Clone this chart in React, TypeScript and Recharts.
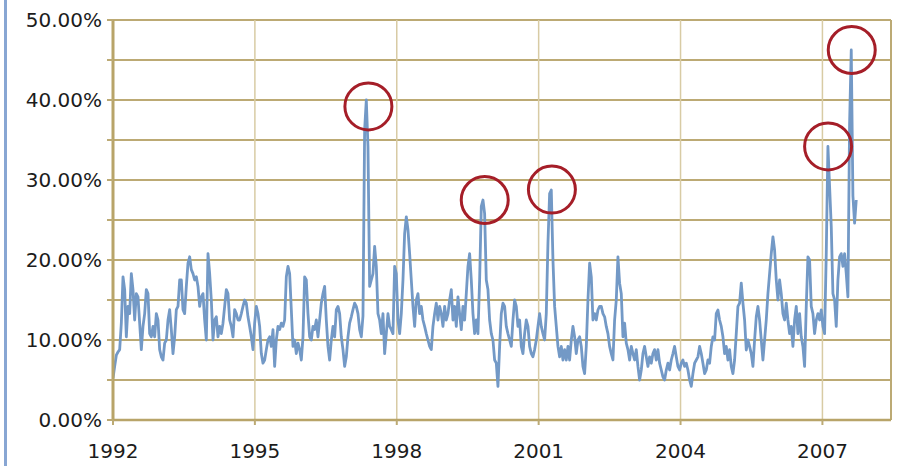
import {
  LineChart,
  Line,
  XAxis,
  YAxis,
  CartesianGrid,
  ReferenceDot,
  ReferenceLine,
} from "recharts";

// rolling volatility, % (evenly spaced samples)
const START_YEAR = 1992;
const STEP = 1 / 28.38; // years between samples

const vol1992 = [
  5.2, 6.7, 8.1, 8.5, 8.8, 12.1, 17.9, 16.3, 10.4, 14.2, 13.3, 18.3, 16.3, 12.5, 15.8, 15.4,
  12.1, 8.8, 11.7, 13.3, 16.3, 15.8, 10.8, 10.4, 11.7, 10.4, 13.3, 12.5, 8.8, 7.9, 7.5, 9.6,
  10.0, 12.5, 13.8, 11.3, 8.3, 10.4, 13.8, 14.2, 17.5, 17.5, 13.8, 13.3, 16.7, 19.6, 20.4, 18.8,
  18.3, 17.5, 17.9, 16.7, 14.2, 15.4, 15.8, 12.5, 10.0, 20.8, 18.3, 15.0, 10.0, 12.5, 12.9, 10.4,
  11.7, 10.8, 12.1, 14.2, 16.3, 15.8, 12.5, 11.7, 10.4, 13.8, 13.3, 12.5,
];
const vol1994 = [
  12.5, 13.3, 14.2, 15.0, 14.6, 12.9, 11.7, 10.4, 8.8, 12.1, 14.2, 13.3, 11.7, 8.3, 7.1, 7.5,
  8.8, 10.0, 10.4, 9.2, 11.3, 6.7, 10.0, 11.7, 11.3, 12.1, 11.7, 12.5, 17.9, 19.2, 18.3, 13.8,
  9.2, 10.0, 8.3, 9.6, 8.8, 7.5, 10.4, 17.9, 17.5, 13.3, 10.4, 10.0, 11.7, 11.3, 12.5, 10.4,
  12.5, 14.6, 15.8, 16.7, 12.5, 9.2, 7.5, 10.0, 11.7, 10.4, 13.8, 14.2, 13.3, 10.4, 8.8, 6.7,
  7.9, 10.4, 12.1, 12.9, 13.8, 14.6, 14.2, 13.3, 11.3, 10.4, 13.0,
];
const vol1997 = [
  36.3, 40.0, 34.2, 16.7, 17.5, 18.3, 21.7, 19.2, 13.3, 12.5, 10.8, 13.3, 8.3, 10.8, 13.3, 11.7,
  11.3, 10.8, 19.2, 18.3, 12.5, 10.8, 13.3, 17.5, 23.3, 25.4, 23.8, 20.8, 17.5, 14.2, 11.7, 15.0,
  15.8, 13.3, 14.2, 12.5, 11.7, 10.8, 10.0, 9.2, 8.8, 11.7, 13.3, 14.6, 12.5, 14.2, 13.3, 11.7,
  14.2, 12.5, 13.3, 15.0, 16.3, 12.5, 14.2, 11.7, 15.4, 13.3, 11.3, 14.2, 12.5, 15.8, 19.2, 20.8,
  17.5, 13.3, 10.8, 12.5, 10.8, 17.5, 26.7, 27.5, 25.8, 17.5, 16.3,
];
const vol2000 = [
  12.5, 10.8, 10.0, 7.5, 7.1, 4.2, 9.2, 13.3, 14.6, 14.2, 11.7, 10.8, 10.0, 9.2, 12.5, 15.0,
  14.2, 11.7, 12.5, 9.2, 8.3, 10.8, 12.5, 11.7, 9.2, 8.3, 7.9, 8.8, 10.0, 11.7, 13.3, 11.7,
  10.8, 10.0, 13.3, 22.1, 28.3, 28.75, 20.0, 14.2, 11.7, 9.2, 7.9, 9.2, 7.5, 8.8, 7.5, 9.2,
  7.5, 10.0, 11.7, 10.4, 8.3, 10.0, 10.4, 9.2, 6.7, 5.8, 9.2, 15.0, 19.6, 17.9, 12.5, 13.3,
  12.5, 13.75, 14.2, 14.2, 13.3, 12.9, 11.7, 10.8, 9.2, 8.3, 7.5,
];
const vol2002 = [
  12.5, 15.0, 20.4, 17.1, 15.8, 10.4, 12.1, 9.6, 8.8, 7.5, 9.2, 8.3, 7.5, 8.8, 6.7, 5.0,
  6.25, 8.3, 9.2, 7.9, 6.7, 7.9, 7.1, 8.3, 8.8, 7.5, 8.8, 7.1, 6.25, 5.4, 5.0, 6.25,
  7.1, 6.25, 7.5, 8.3, 9.2, 7.9, 6.7, 6.25, 7.1, 7.5, 6.7, 7.1, 6.25, 5.0, 4.2, 5.8,
  7.1, 7.5, 7.9, 9.2, 8.3, 7.1, 5.8, 6.25, 7.5, 7.1, 9.2, 10.4, 10.0, 13.3, 13.75, 12.5,
  11.7, 10.4, 8.3, 9.2, 7.5, 8.8, 6.7, 5.8, 7.5, 10.8, 14.2,
];
const vol2005 = [
  14.6, 17.1, 14.6, 12.5, 8.75, 10.0, 9.2, 8.3, 6.7, 10.0, 12.9, 14.2, 12.5, 10.0, 7.5, 10.0,
  12.5, 15.8, 18.3, 20.8, 22.9, 21.25, 17.5, 15.0, 17.5, 15.8, 13.3, 12.5, 14.6, 12.5, 10.8, 11.7,
  9.2, 12.5, 14.2, 10.8, 13.3, 10.4, 9.2, 6.7, 14.2, 20.4, 20.0, 14.2, 13.3, 10.8, 12.5, 13.3,
  12.5, 13.75, 11.7, 10.8, 20.8, 34.2, 29.2, 24.2, 15.8, 15.0, 11.7, 17.5, 20.4, 20.8, 19.2, 20.8,
  18.3, 15.4, 37.0, 46.25, 28.0, 24.6, 27.5,
];

const yearTicks = [1992, 1995, 1998, 2001, 2004, 2007];
const pctTicks = [0, 5, 10, 15, 20, 25, 30, 35, 40, 45, 50];

// circled spikes
const peakYears = [1997.4, 1999.86, 2001.28, 2007.12, 2007.62];
const peakLevels = [39.2, 27.5, 28.8, 34.2, 46.25];

const series = [...vol1992, ...vol1994, ...vol1997, ...vol2000, ...vol2002, ...vol2005];
const data = series.map((v, i) => ({ t: START_YEAR + i * STEP, vol: v }));

const GOLD = "#bcaa74";
const font = { fill: "#1c1c1c", fontSize: 20, fontFamily: "DejaVu Sans" };

export default function App() {
  return (
    <div
      style={{
        position: "absolute",
        left: 0,
        top: 0,
        width: 915,
        height: 466,
        background: "#fff",
      }}
    >
      <div
        style={{
          position: "absolute",
          left: 4,
          top: 0,
          width: 3,
          height: 466,
          background: "#88a6d3",
        }}
      />
      <LineChart
        width={915}
        height={466}
        data={data}
        margin={{ top: 20, right: 24, bottom: 0, left: 0 }}
      >
        <CartesianGrid vertical={false} stroke={GOLD} strokeWidth={2} />
        <CartesianGrid horizontal={false} stroke="#d8cba4" strokeWidth={1.5} />
        <XAxis
          dataKey="t"
          type="number"
          domain={[1992, 2008.45]}
          ticks={yearTicks}
          interval={0}
          allowDataOverflow
          height={46}
          tickSize={5}
          tickMargin={19}
          tickLine={{ stroke: GOLD, strokeWidth: 2 }}
          axisLine={{ stroke: "#b8a469", strokeWidth: 2.5 }}
          tick={font}
        />
        <YAxis
          type="number"
          domain={[0, 50]}
          ticks={pctTicks}
          interval={0}
          width={113}
          tickSize={6}
          tickMargin={5}
          tickLine={{ stroke: GOLD, strokeWidth: 2 }}
          axisLine={{ stroke: "#b8a469", strokeWidth: 3 }}
          tick={font}
          tickFormatter={(v: number) => (v % 10 === 0 ? `${v.toFixed(2)}%` : "")}
        />
        <ReferenceLine x={2008.45} stroke={GOLD} strokeWidth={2} />
        <Line
          type="linear"
          dataKey="vol"
          stroke="#7399c6"
          strokeWidth={2.8}
          strokeLinejoin="round"
          dot={false}
          isAnimationActive={false}
        />
        {peakYears.map((x, i) => (
          <ReferenceDot
            key={i}
            x={x}
            y={peakLevels[i]}
            r={23.5}
            fill="none"
            stroke="#a51e28"
            strokeWidth={3}
          />
        ))}
      </LineChart>
    </div>
  );
}
